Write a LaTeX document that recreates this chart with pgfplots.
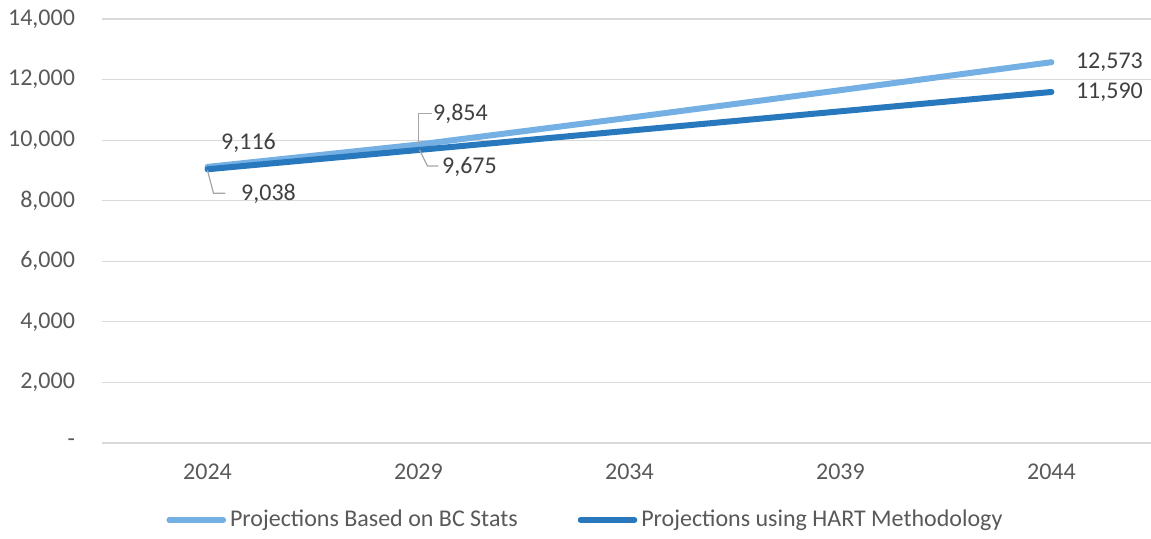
\documentclass[border=0pt]{standalone}
\usepackage{fontspec}
\setmainfont{Carlito}
\usepackage{pgfplots}
\pgfplotsset{compat=1.18}
\definecolor{lightb}{RGB}{116,176,228}
\definecolor{darkb}{RGB}{40,120,189}
\definecolor{gridc}{RGB}{217,217,217}
\definecolor{tickc}{RGB}{89,89,89}
\definecolor{labc}{RGB}{64,64,64}
\definecolor{leadc}{RGB}{166,166,166}
\begin{document}
\begin{tikzpicture}[
  dl/.style={font=\fontsize{12}{14}\selectfont, text=labc, inner sep=0pt},
  leader/.style={draw=leadc, line width=0.6pt}]
\begin{axis}[
  scale only axis,
  width=524.3pt, height=212pt,
  xmin=-0.5, xmax=4.47,
  ymin=0, ymax=14000,
  scaled y ticks=false,
  axis line style={draw=none},
  major tick length=0pt,
  ymajorgrids, grid style={gridc, line width=0.6pt},
  xtick={0,1,2,3,4},
  xticklabels={2024,2029,2034,2039,2044},
  ytick={0,2000,4000,6000,8000,10000,12000,14000},
  yticklabels={-,{2,000},{4,000},{6,000},{8,000},{10,000},{12,000},{14,000}},
  tick label style={font=\fontsize{12}{14}\selectfont, text=tickc},
  y tick label style={anchor=east, xshift=-10pt},
  x tick label style={yshift=-7pt},
  legend columns=2,
  legend style={draw=none, at={(0.462,-0.1816)}, anchor=center,
    font=\fontsize{12}{14}\selectfont, text=tickc,
    /tikz/every even column/.append style={column sep=28pt},
    inner sep=0pt},
  legend image code/.code={\draw[#1, line width=2.8pt, line cap=round] (0pt,0pt) -- (27pt,0pt);},
]
\addplot[lightb, line width=3pt, line cap=round, line join=round] coordinates {(0,9116) (1,9854) (2,10740) (3,11650) (4,12573)};
\addlegendentry{Projections Based on BC Stats}
\addplot[darkb, line width=3pt, line cap=round, line join=round] coordinates {(0,9038) (1,9675) (2,10313) (3,10952) (4,11590)};
\addlegendentry{Projections using HART Methodology}

\node[dl] at ([xshift=20.5pt, yshift=12pt]axis cs:0,9116) {9,116};
\node[dl] at ([xshift=30.5pt, yshift=-12.5pt]axis cs:0,9038) {9,038};
\node[dl] at ([xshift=21pt, yshift=15.5pt]axis cs:1,9854) {9,854};
\node[dl] at ([xshift=25.5pt, yshift=-8.5pt]axis cs:1,9675) {9,675};
\node[dl] at ([xshift=29pt, yshift=0pt]axis cs:4,12573) {12,573};
\node[dl] at ([xshift=29pt, yshift=0pt]axis cs:4,11590) {11,590};
\draw[leader] ([yshift=-0.5pt]axis cs:0,9038) -- ++(3pt,-11.5pt) -- ++(6pt,0pt);
\draw[leader] ([yshift=0.5pt]axis cs:1,9854) -- ++(0pt,15pt) -- ++(7pt,0pt);
\draw[leader] ([xshift=0.5pt]axis cs:1,9675) -- ++(4pt,-8pt) -- ++(5.5pt,0pt);
\end{axis}
\pgfresetboundingbox
\path ([xshift=-51pt, yshift=-48pt]current axis.south west) rectangle ([xshift=524.5pt, yshift=221.5pt]current axis.south west);
\end{tikzpicture}
\end{document}
